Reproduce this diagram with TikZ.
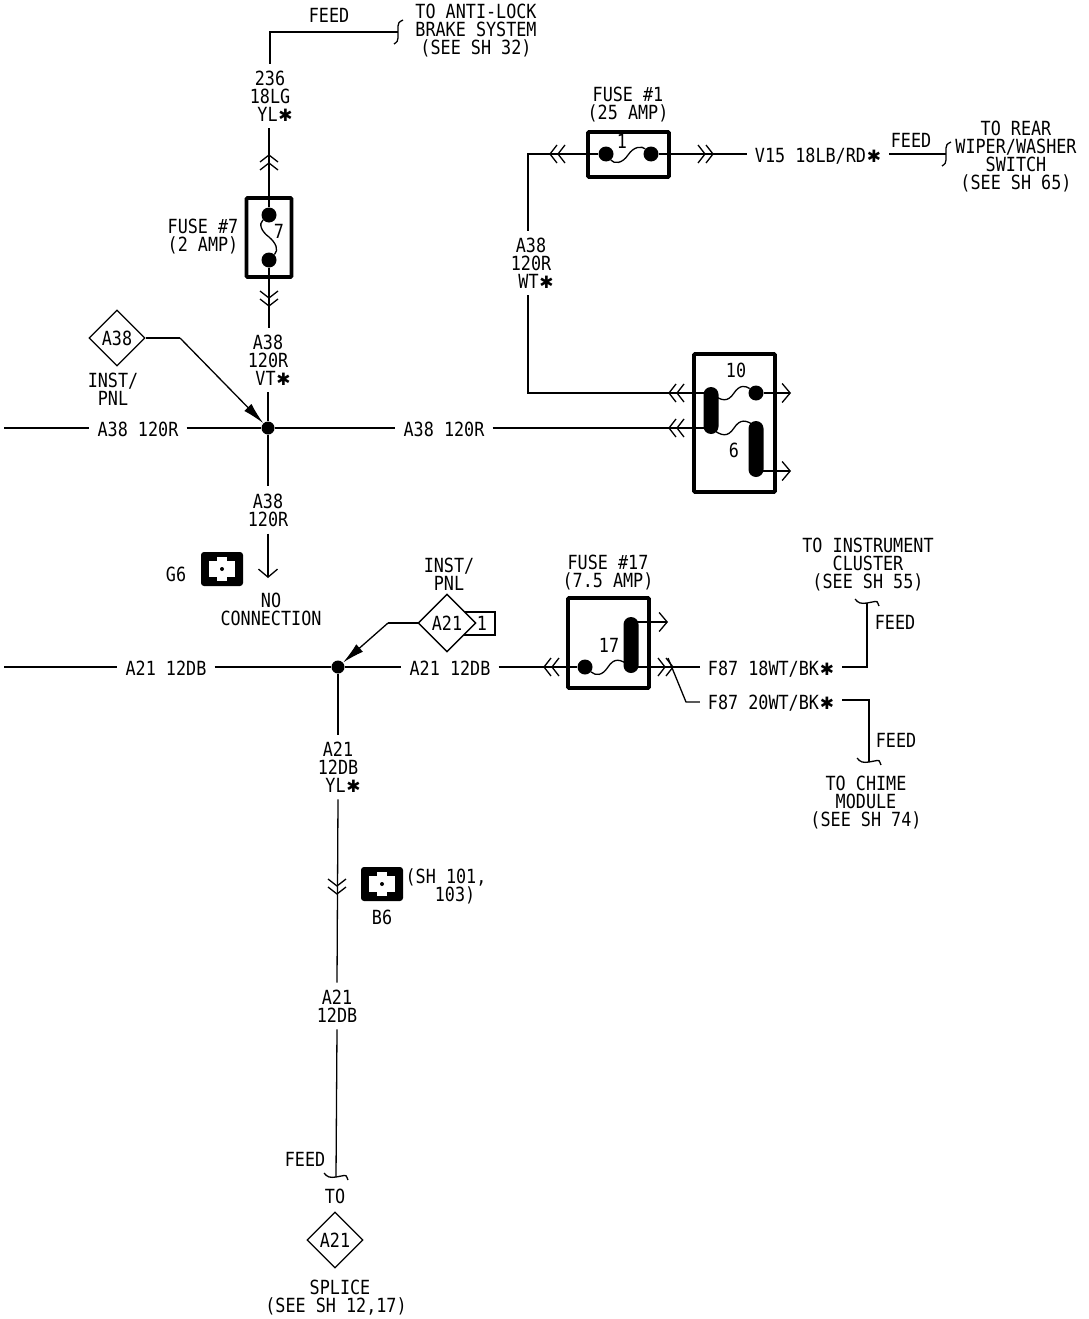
\documentclass[tikz,border=0pt]{standalone}
\usepackage{fontspec}
\usetikzlibrary{shapes.geometric,arrows.meta}
\newfontfamily\wirefont[FakeStretch=0.86]{DejaVu Sans Mono}
\newfontfamily\symfont{DejaVu Sans}
\newcommand{\wf}{\fontsize{19.5}{18}\selectfont\wirefont}
\newcommand{\st}{\makebox[15pt][r]{\symfont\fontsize{17}{17}\selectfont ✱}}
\tikzset{
  wire/.style={line width=1.3pt,black},
  lab/.style={font=\wf,inner sep=0pt,text height=14pt,text depth=0pt},
  hlab/.style={lab,inner xsep=8pt},
  mlab/.style={font=\wf,inner sep=0pt,align=center},
  vlab/.style={mlab,inner ysep=7pt},
  fusebox/.style={draw,line width=3.8pt,rounded corners=1pt,inner sep=0pt},
  dia/.style={diamond,draw,line width=1.3pt,aspect=1,minimum width=56pt,minimum height=56pt,inner sep=0pt,font=\wf},
  dot/.style={circle,fill=black,inner sep=0pt,minimum size=15pt},
  junction/.style={circle,fill=black,inner sep=0pt,minimum size=13pt},
  barb/.style={-{Straight Barb[length=8pt,width=19pt,line width=1.3pt]}},
  solidtip/.style={-{Latex[length=22pt,width=10pt]}},
  pill/.style={rounded corners=7.5pt,fill=black,inner sep=0pt,minimum width=15pt},
  chev/.pic={\draw[wire] (-9,-7) -- (0,0) -- (9,-7);},
  brkh/.pic={\draw[wire] (-12,-4) .. controls (-9,0) and (-6,1) .. (0,0) -- (8,-1.5) .. controls (10,-2) .. (12,3);},
  brkv/.pic={\draw[wire] (5,-12) .. controls (1,-10) and (0,-9) .. (0,-6) -- (0,6) .. controls (0,9) and (-1,10) .. (-4,12);},
  conn/.pic={
    \fill[black,rounded corners=3pt] (-21,-17) rectangle (21,17);
    \fill[white] (-13,-8) rectangle (13,8);
    \fill[white] (-5,-12) rectangle (5,12);
    \fill[black] (0,0) circle (2);
  }
}
\begin{document}
\begin{tikzpicture}[x=1pt,y=-1pt]
\useasboundingbox (0,0) rectangle (1088,1319);
\fill[white] (0,0) rectangle (1088,1319);

% ---- fuse boxes
\node[fusebox,minimum width=45pt,minimum height=79pt] (f7) at (269,237.5) {};
\node[fusebox,minimum width=81pt,minimum height=45pt] (f1) at (628.5,154.5) {};
\node[fusebox,minimum width=81pt,minimum height=138pt] (f106) at (734.5,423) {};
\node[fusebox,minimum width=81pt,minimum height=90pt] (f17) at (608.5,643) {};

% ---- fuse 7
\node[dot] (f7a) at (269,215) {};
\node[dot] (f7b) at (269,260) {};
\draw[wire] (f7a) .. controls (258,224) and (262,232) .. (269,237) .. controls (276,243) and (279,250) .. (f7b);
\node[lab] (n7) at (279,231) {7};

% ---- fuse 1
\node[dot] (f1a) at (606,154) {};
\node[dot] (f1b) at (651,154) {};
\draw[wire] (f1a) .. controls (614,164) and (622,164) .. (628,155) .. controls (634,146) and (642,146) .. (f1b);
\node[lab] (n1) at (622,142) {1};

% ---- fuses 10 and 6
\node[pill,minimum height=47pt] (pL) at (711,410.5) {};
\node[pill,minimum height=56pt] (pR) at (756,449) {};
\node[dot] (f10b) at (756,393) {};
\coordinate (pLa) at (711,393);
\coordinate (pLb) at (711,428);
\coordinate (pRb) at (756,471);
\draw[wire] (pLa) .. controls (722,402) and (728,402) .. (734,393) .. controls (740,384) and (746,386) .. (f10b);
\draw[wire] (pLb) .. controls (722,437) and (728,437) .. (734,428) .. controls (740,419) and (746,419) .. (756,427);
\node[lab] (n10) at (736,370) {10};
\node[lab] (n6) at (734,450) {6};

% ---- fuse 17
\node[dot] (f17a) at (585,667) {};
\node[pill,minimum height=56pt] (p17) at (631,645) {};
\coordinate (p17a) at (631,622);
\coordinate (p17b) at (631,667);
\draw[wire] (f17a) .. controls (596,676) and (602,676) .. (608,667) .. controls (614,658) and (620,658) .. (p17b);
\node[lab] (n17) at (609,645) {17};

% ---- diamonds
\node[dia] (dA38) at (117,338) {A38};
\node[dia] (dA21) at (447,623) {A21};
\node[dia] (dSpl) at (335,1240) {A21};
\node[draw,line width=1.3pt,minimum width=32pt,minimum height=23pt,inner sep=0pt] (tab) at (479,623.5) {};
\fill[white] (dA21.north) -- (dA21.east) -- (dA21.south) -- (dA21.west) -- cycle;
\draw[line width=1.3pt] (dA21.north) -- (dA21.east) -- (dA21.south) -- (dA21.west) -- cycle;
\node[lab] at (447,623) {A21};
\node[lab] (ntab) at (482,623) {1};

% ---- junctions
\node[junction] (j1) at (268,428) {};
\node[junction] (j2) at (338,667) {};

% ---- labels
\node[lab] (feed1) at (329,16) {FEED};
\node[mlab] (abs) at (476,31) {TO ANTI-LOCK\\BRAKE SYSTEM\\(SEE SH 32)};
\node[vlab] (w236) at (270,96) {236\\18LG\\\hspace{10pt}YL\st};
\node[mlab] (lf7) at (203,237) {FUSE \#7\\(2 AMP)};
\node[vlab] (wA38v) at (268,360) {A38\\120R\\\hspace{10pt}VT\st};
\node[mlab] (lf1) at (628,105) {FUSE \#1\\(25 AMP)};
\node[vlab] (wA38w) at (531,263) {A38\\120R\\\hspace{10pt}WT\st};
\node[hlab] (v15) at (818,155) {V15 18LB/RD\st};
\node[lab] (feed2) at (911,140) {FEED};
\node[mlab] (rear) at (1016,157) {TO REAR\\WIPER/WASHER\\SWITCH\\(SEE SH 65)};
\node[mlab] (inst1) at (113,389) {INST/\\PNL};
\node[hlab] (h1) at (138,429) {A38 120R};
\node[hlab] (h2) at (444,429) {A38 120R};
\node[vlab] (wA38d) at (268,510) {A38\\120R};
\node[lab] (g6t) at (176,574) {G6};
\node[mlab] (nocon) at (271,609) {NO\\CONNECTION};
\node[mlab] (inst2) at (449,574) {INST/\\PNL};
\node[mlab] (lf17) at (608,573) {FUSE \#17\\(7.5 AMP)};
\node[hlab] (h3) at (166,668) {A21 12DB};
\node[hlab] (h4) at (450,668) {A21 12DB};
\node[hlab] (f87a) at (771,668) {F87 18WT/BK\st};
\node[hlab] (f87b) at (771,702) {F87 20WT/BK\st};
\node[mlab] (cluster) at (868,565) {TO INSTRUMENT\\CLUSTER\\(SEE SH 55)};
\node[lab] (feed3) at (895,622) {FEED};
\node[lab] (feed4) at (896,740) {FEED};
\node[mlab] (chime) at (866,803) {TO CHIME\\MODULE\\(SEE SH 74)};
\node[vlab] (wA21a) at (338,767) {A21\\12DB\\\hspace{10pt}YL\st};
\node[mlab] (sh) at (446,886) {(SH 101,\\\hspace{18pt}103)};
\node[lab] (b6t) at (382,917) {B6};
\node[vlab] (wA21b) at (337,1006) {A21\\12DB};
\node[lab] (feed5) at (305,1159) {FEED};
\node[lab] (to) at (335,1196) {TO};
\node[mlab] (splice) at (336,1298) {\hspace{8pt}SPLICE\\(SEE SH 12,17)};

% ---- connector symbols
\pic at (222,569) {conn};
\pic at (382,884) {conn};

% ---- free ends
\coordinate (e1) at (398,32);
\coordinate (c1) at (270,32);
\coordinate (e2) at (4,428);
\coordinate (e3) at (4,667);
\coordinate (c2) at (180,338);
\coordinate (c3) at (528,393);
\coordinate (c4) at (528,154);
\coordinate (e4) at (946,154);
\coordinate (t1) at (791,393);
\coordinate (t2) at (791,471);
\coordinate (t3) at (668,622);
\coordinate (c5) at (388,623);
\coordinate (e5) at (867,603);
\coordinate (c6) at (867,667);
\coordinate (c7) at (869,700);
\coordinate (e6) at (869,762);
\coordinate (x1) at (668,658);
\coordinate (c8) at (686,702);
\coordinate (e7) at (268,578);
\coordinate (e8) at (336,1177);

% ---- wires
\draw[wire] (e1) -- (c1) -- (w236.north -| c1);
\draw[wire] (w236.south -| f7) -- (f7a);
\draw[wire] (f7b) -- (wA38v.north -| f7);
\draw[wire] (wA38v.south -| j1) -- (j1);
\draw[wire] (e2) -- (h1.west |- e2);
\draw[wire] (h1.east |- j1) -- (j1) -- (h2.west |- j1);
\draw[wire] (h2.east |- j1) -- (pLb);
\draw[wire] (j1) -- (wA38d.north);
\draw[wire,barb] (wA38d.south) -- (e7);
\draw[wire] (dA38.east) -- (c2);
\draw[wire,solidtip] (c2) -- (j1);
\draw[wire] (pLa) -- (c3) -- (wA38w.south -| c3);
\draw[wire] (wA38w.north -| c3) -- (c4) -- (f1a);
\draw[wire] (f1b) -- (v15.west |- f1b);
\draw[wire] (v15.east |- f1b) -- (e4);
\draw[wire,barb] (f10b) -- (t1);
\draw[wire,barb] (pRb) -- (t2);
\draw[wire] (e3) -- (h3.west |- e3);
\draw[wire] (h3.east |- e3) -- (j2) -- (h4.west |- j2);
\draw[wire] (h4.east |- j2) -- (f17a);
\draw[wire,barb] (p17a) -- (t3);
\draw[wire] (p17b) -- (f87a.west |- p17b);
\draw[wire] (dA21.west) -- (c5);
\draw[wire,solidtip] (c5) -- (j2);
\draw[wire] (j2) -- (wA21a.north -| j2);
\draw[wire] (wA21a.south -| j2) -- (wA21b.north);
\draw[wire] (wA21b.south) -- (e8);
\draw[wire] (f87a.east |- c6) -- (c6) -- (e5);
\draw[wire] (f87b.east |- c7) -- (c7) -- (e6);
\draw[wire] (x1) -- (c8) -- (f87b.west |- c8);

% ---- double chevrons (connectors)
\pic[rotate=180] at (269,155) {chev};
\pic[rotate=180] at (269,163) {chev};
\pic[rotate=0] at (269,298) {chev};
\pic[rotate=0] at (269,306) {chev};
\pic[rotate=270] at (550,154) {chev};
\pic[rotate=270] at (558,154) {chev};
\pic[rotate=90] at (705,154) {chev};
\pic[rotate=90] at (713,154) {chev};
\pic[rotate=270] at (669,393) {chev};
\pic[rotate=270] at (677,393) {chev};
\pic[rotate=270] at (669,428) {chev};
\pic[rotate=270] at (677,428) {chev};
\pic[rotate=270] at (544,667) {chev};
\pic[rotate=270] at (552,667) {chev};
\pic[rotate=90] at (665,667) {chev};
\pic[rotate=90] at (673,667) {chev};
\pic[rotate=0] at (337,886) {chev};
\pic[rotate=0] at (337,894) {chev};

% ---- wire breaks
\pic at (e1) {brkv};
\pic at (e4) {brkv};
\pic at (e5) {brkh};
\pic at (e6) {brkh};
\pic at (e8) {brkh};
\end{tikzpicture}
\end{document}
